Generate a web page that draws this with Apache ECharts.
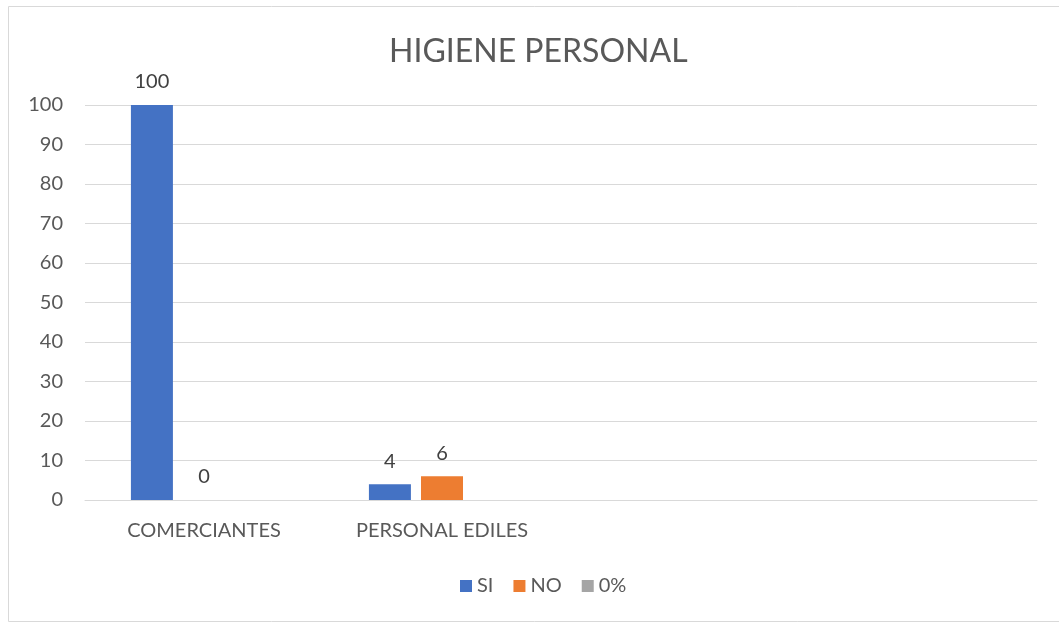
<!DOCTYPE html>
<html>
<head>
<meta charset="utf-8">
<script src="https://cdn.jsdelivr.net/npm/echarts@6/dist/echarts.min.js"></script>
<style>
html,body{margin:0;padding:0;background:#fff;}
#c{width:1059px;height:626px;}
</style>
</head>
<body>
<div id="c"></div>
<script>
const categories = ['COMERCIANTES', 'PERSONAL EDILES', '', ''];
const seriesNames = ['SI', 'NO', '0%'];
const siValues = [100, 4, null, null];
const noValues = [0, 6, null, null];
const pctValues = [null, null, null, null];
const yTicks = {min: 0, max: 100, interval: 10};

const colors = ['#4472C4', '#ED7D31', '#A5A5A5'];
const font = 'Lato, "Open Sans", sans-serif';
const chart = echarts.init(document.getElementById('c'));
const labelCfg = {show: true, position: 'top', distance: 13, color: '#404040', fontSize: 20, fontFamily: font};
chart.setOption({
  animation: false,
  color: colors,
  title: {
    text: 'HIGIENE PERSONAL',
    left: 384, top: 31,
    textStyle: {color: '#595959', fontSize: 32, fontWeight: 'normal', fontFamily: font}
  },
  legend: {
    left: 455, top: 571,
    itemWidth: 12, itemHeight: 12, itemGap: 20,
    icon: 'rect',
    textStyle: {color: '#595959', fontSize: 20, fontFamily: font, padding: [0, 0, 0, 0]},
    data: seriesNames
  },
  graphic: [{
    type: 'rect', shape: {x: 8.5, y: 6.5, width: 1100, height: 615},
    style: {fill: 'none', stroke: '#d9d9d9', lineWidth: 1}, silent: true
  }],
  grid: {left: 85, right: 22, top: 105, bottom: 126},
  xAxis: {
    type: 'category', data: categories,
    axisLine: {lineStyle: {color: '#d9d9d9', width: 1}},
    axisTick: {show: false},
    axisLabel: {color: '#595959', fontSize: 20, fontFamily: font, margin: 21}
  },
  yAxis: {
    type: 'value', min: yTicks.min, max: yTicks.max, interval: yTicks.interval,
    axisLine: {show: false}, axisTick: {show: false},
    splitLine: {lineStyle: {color: '#d9d9d9', width: 1}},
    axisLabel: {color: '#595959', fontSize: 20, fontFamily: font, margin: 22}
  },
  series: [
    {name: seriesNames[0], type: 'bar', data: siValues, barWidth: 42, barGap: '24%', label: labelCfg},
    {name: seriesNames[1], type: 'bar', data: noValues, barWidth: 42, barGap: '24%', label: labelCfg},
    {name: seriesNames[2], type: 'bar', data: pctValues, barWidth: 42, barGap: '24%', label: labelCfg}
  ]
});
</script>
</body>
</html>
